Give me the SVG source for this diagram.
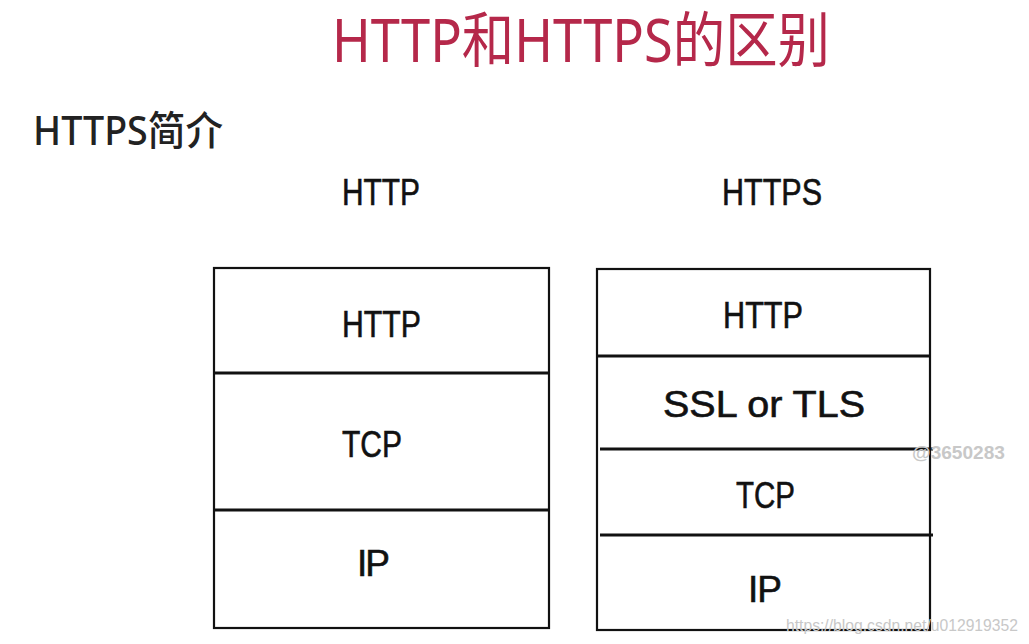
<svg xmlns="http://www.w3.org/2000/svg" width="1029" height="644" viewBox="0 0 1029 644">
<style>
.lbl{font-family:"Liberation Sans",Arial,sans-serif;font-size:37px;fill:#111;stroke:#111;stroke-width:0.6;}
.box{fill:#fff;stroke:#111;stroke-width:2.2;}
.div{stroke:#111;stroke-width:3;}
.wm{font-family:"Liberation Sans",Arial,sans-serif;fill:#c8c8c8;}
</style>
<rect width="1029" height="644" fill="#fff"/>
<text id="title" x="332" y="62" font-family="Noto Sans, Noto Sans CJK SC, sans-serif" font-size="60" fill="#b5284a" textLength="498" lengthAdjust="spacingAndGlyphs">HTTP和HTTPS的区别</text>
<text id="subtitle" x="33" y="145" font-family="Noto Sans, Noto Sans CJK SC, sans-serif" font-size="40" font-weight="500" fill="#222" textLength="190" lengthAdjust="spacingAndGlyphs">HTTPS简介</text>
<text class="lbl" x="342" y="205" textLength="78" lengthAdjust="spacingAndGlyphs">HTTP</text>
<text class="lbl" x="722" y="205" textLength="100" lengthAdjust="spacingAndGlyphs">HTTPS</text>
<g id="http-stack">
<rect class="box" x="214" y="268" width="335" height="360"/>
<line class="div" x1="214" y1="373" x2="549" y2="373"/>
<line class="div" x1="214" y1="510" x2="549" y2="510"/>
<text class="lbl" x="342" y="337" textLength="79" lengthAdjust="spacingAndGlyphs">HTTP</text>
<text class="lbl" x="342" y="457" textLength="60" lengthAdjust="spacingAndGlyphs">TCP</text>
<text class="lbl" x="357" y="576" textLength="33" lengthAdjust="spacing">IP</text>
</g>
<g id="https-stack">
<rect class="box" x="597" y="269" width="333" height="361"/>
<line class="div" x1="597" y1="356" x2="930" y2="356"/>
<line class="div" x1="600" y1="449" x2="933" y2="449"/>
<line class="div" x1="600" y1="535" x2="933" y2="535"/>
<text class="lbl" x="723" y="328" textLength="80" lengthAdjust="spacingAndGlyphs">HTTP</text>
<text class="lbl" x="663" y="417" textLength="202" lengthAdjust="spacingAndGlyphs">SSL or TLS</text>
<text class="lbl" x="736" y="508" textLength="59" lengthAdjust="spacingAndGlyphs">TCP</text>
<text class="lbl" x="748" y="602" textLength="34" lengthAdjust="spacing">IP</text>
</g>
<g id="connectors"/>
<text class="wm" x="912" y="459" font-size="18" font-weight="bold" textLength="93" lengthAdjust="spacingAndGlyphs">@3650283</text>
<text class="wm" x="786" y="631" font-size="17" textLength="232" lengthAdjust="spacingAndGlyphs">https://blog.csdn.net/u012919352</text>
</svg>
